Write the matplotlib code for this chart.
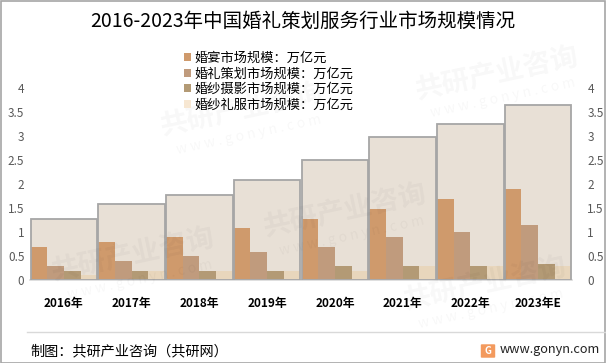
import matplotlib
matplotlib.use('Agg')
import matplotlib.pyplot as plt
from matplotlib.patches import Patch, Rectangle, FancyBboxPatch
import numpy as np

plt.rcParams['font.family'] = ['Noto Sans CJK SC', 'DejaVu Sans']

years = ['2016年', '2017年', '2018年', '2019年', '2020年', '2021年', '2022年', '2023年E']
total = [1.28, 1.58, 1.78, 2.09, 2.49, 2.97, 3.26, 3.65]
banquet = [0.68, 0.79, 0.89, 1.08, 1.28, 1.47, 1.68, 1.89]
planning = [0.29, 0.39, 0.50, 0.59, 0.68, 0.89, 0.99, 1.14]
photo = [0.19, 0.19, 0.19, 0.19, 0.29, 0.29, 0.29, 0.33]
dress = [0.10, 0.19, 0.19, 0.19, 0.19, 0.29, 0.29, 0.29]
series = [
    ('婚宴市场规模：万亿元', banquet, '#cf9a6c'),
    ('婚礼策划市场规模：万亿元', planning, '#c09b7d'),
    ('婚纱摄影市场规模：万亿元', photo, '#b39a75'),
    ('婚纱礼服市场规模：万亿元', dress, '#e8d6bc'),
]
yticks = [0, 0.5, 1, 1.5, 2, 2.5, 3, 3.5, 4]
ytick_labels = ['0', '0.5', '1', '1.5', '2', '2.5', '3', '3.5', '4']

fig = plt.figure(figsize=(6.06, 3.63), dpi=100)
ax = fig.add_axes([30/606, 1-280/363, 542/606, 192/363])

# faint watermarks
for (wx, wy) in [(0.40, 0.70), (0.82, 0.80), (0.57, 0.42), (0.22, 0.30), (0.80, 0.22)]:
    fig.text(wx, wy, '共研产业咨询', fontsize=20, fontweight='bold', color='#000000', alpha=0.03,
             rotation=12, ha='center', va='center')
    fig.text(wx + 0.01, wy - 0.07, 'w w w . g o n y n . c o m', fontsize=10, color='#000000',
             alpha=0.03, rotation=12, ha='center', va='center')

x = np.arange(len(years))
ax.bar(x, total, width=0.985, color='#e8e0d6', zorder=1)
bw = 0.985 / 4
for k, (name, vals, col) in enumerate(series):
    ax.bar(x - 0.985/2 + bw*(k + 0.5), vals, width=bw, color=col, zorder=2)
ax.bar(x, total, width=0.985, fill=False, edgecolor='#a6a6a6', linewidth=1.3, zorder=3)

ax.set_xlim(-0.5, len(years) - 0.5)
ax.set_ylim(0, 4)
ax.set_yticks(yticks)
ax.set_yticklabels(ytick_labels)
ax.set_xticks(x)
ax.set_xticklabels(years, fontweight='bold', fontsize=8.5)
ax.tick_params(axis='x', length=0, pad=12)
ax.tick_params(axis='y', length=0, pad=4, labelsize=8.5, labelcolor='#595959')
for s in ['top', 'left', 'right']:
    ax.spines[s].set_visible(False)
ax.spines['bottom'].set_color('#d9d9d9')
ax.spines['bottom'].set_linewidth(1.2)
ax.patch.set_alpha(0)

ax2 = ax.twinx()
ax2.set_ylim(0, 4)
ax2.set_yticks(yticks)
ax2.set_yticklabels(ytick_labels)
ax2.tick_params(axis='y', length=0, pad=11, labelsize=8.5, labelcolor='#595959')
for s in ax2.spines.values():
    s.set_visible(False)

handles = [Patch(facecolor=c if i < 3 else '#f7e7d2', edgecolor='none', label=n)
           for i, (n, v, c) in enumerate(series)]
fig.legend(handles=handles, loc='upper left', bbox_to_anchor=(177/606, 1-45/363),
           frameon=False, fontsize=9.5, handlelength=0.55, handleheight=0.55,
           handletextpad=0.3, labelspacing=0.2, borderpad=0)

fig.text(0.5, 1-21/363, '2016-2023年中国婚礼策划服务行业市场规模情况', fontsize=14,
         ha='center', va='center', color='#000000')

# separator and footer
fig.add_artist(plt.Line2D([27/606, 605/606], [1-332/363, 1-332/363], color='#d9d9d9', lw=1.0))
fig.text(30/606, 1-351/363, '制图：共研产业咨询（共研网）', fontsize=10.2, ha='left', va='center')
fig.add_artist(FancyBboxPatch((482/606, 1-357/363), 12/606, 12/363,
                              boxstyle='round,pad=0.002', facecolor='#f39a5e', edgecolor='none',
                              transform=fig.transFigure))
fig.text(488/606, 1-351/363, 'G', fontsize=7, fontweight='bold', color='white', ha='center', va='center')
fig.text(500/606, 1-350/363, 'www.gonyn.com', fontsize=9.2, ha='left', va='center', color='#222222')

# outer border
fig.add_artist(Rectangle((0.5/606, 0.5/363), 1-1.5/606, 1-1.5/363, transform=fig.transFigure,
                         fill=False, edgecolor='#a6a6a6', lw=1.2))

fig.savefig('out.png', dpi=100)
